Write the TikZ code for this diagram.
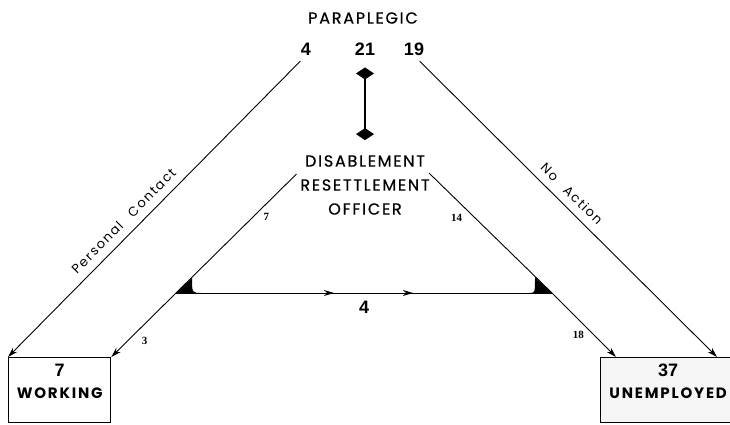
\documentclass[tikz,border=0pt]{standalone}
\usepackage{fontspec}
\setmainfont{Poppins}[LetterSpace=12]
\newfontfamily\headfont{Poppins}[LetterSpace=11,FakeBold=0.6]
\newfontfamily\numfont{Liberation Sans}
\newfontfamily\tagfont{Liberation Serif}
\usetikzlibrary{arrows.meta,decorations.markings}
\tikzset{
  headtxt/.style={inner sep=0pt,align=center,font=\headfont\fontsize{16}{24}\selectfont},
  bignum/.style={inner sep=0pt,font=\numfont\bfseries\fontsize{18}{18}\selectfont},
  tag/.style={inner sep=0pt,font=\tagfont\bfseries\fontsize{11}{11}\selectfont},
  route/.style={inner sep=0pt,font=\fontsize{13}{13}\selectfont},
  outbox/.style={draw,line width=1.3pt,anchor=north west,inner sep=0pt,align=center,
    minimum height=65pt,text depth=18pt,font=\bfseries\fontsize{15}{22}\selectfont},
  flow/.style={-{Stealth[length=10pt,width=6pt]},line width=0.9pt},
}

\begin{document}
\begin{tikzpicture}[x=1pt,y=-1pt]
\useasboundingbox (0,0) rectangle (730,424);
\node[headtxt] (par) at (363,18) {PARAPLEGIC};
\node[bignum] (n4)  at (306,49) {4};
\node[bignum] (n21) at (365,49) {21};
\node[bignum] (n19) at (414,49) {19};
\node[headtxt] (dro) at (365,185) {DISABLEMENT\\RESETTLEMENT\\OFFICER};
\node[outbox,minimum width=102pt] (work) at (8,357) {{\numfont\fontsize{18}{22}\selectfont 7}\\WORKING};
\node[outbox,minimum width=135pt,fill=gray!8] (unemp) at (600,357) {{\numfont\fontsize{18}{22}\selectfont 37}\\UNEMPLOYED};
\coordinate (dl) at (296.5,174);
\coordinate (dr) at (429,173);
\coordinate (jl) at (176,293);
\coordinate (jr) at (552,293);
% paraplegic <-> officer
\draw[{Diamond[length=12pt,width=18pt]}-{Diamond[length=12pt,width=18pt]},line width=1.2pt,
  shorten <=12pt,shorten >=15pt] (n21.south) -- (dro.north);
% outer routes
\draw[flow,shorten <=8pt] (n4.south) -- (work.north west)
  node[route,pos=0.58,sloped,above=8pt] {Personal\quad Contact};
\draw[flow,shorten <=8pt] (n19.south) -- ([xshift=117pt]unemp.north west)
  node[route,pos=0.49,sloped,above=8pt] {No\quad Action};
% via the officer
\draw[flow] (dl) -- node[tag,pos=0.36,right=10pt] {7} (jl)
  -- node[tag,pos=0.75,right=14pt] {3} (work.north east);
\draw[flow] (dr) -- node[tag,pos=0.37,left=12pt] {14} (jr)
  -- node[tag,pos=0.66,left=10pt] {18} ([xshift=16pt]unemp.north west);
\draw[line width=0.9pt,postaction={decorate},decoration={markings,
  mark=at position 0.42 with {\arrow{Stealth[length=10pt,width=6pt]}},
  mark=at position 0.63 with {\arrow{Stealth[length=10pt,width=6pt]}}}]
  (jl) -- node[bignum,below=8pt] {4} (jr);
\fill (jl) -- (192,278) .. controls (192,293) .. (202,293) -- cycle;
\fill (jr) -- (535,277) .. controls (535,293) .. (529,293) -- cycle;
\end{tikzpicture}
\end{document}
